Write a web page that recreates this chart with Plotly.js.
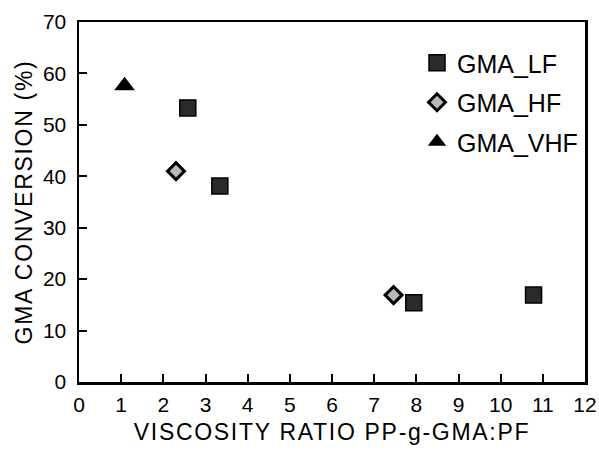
<!DOCTYPE html>
<html>
<head>
<meta charset="utf-8">
<script src="https://cdn.plot.ly/plotly-3.0.1.min.js"></script>
<style>
html,body{margin:0;padding:0;background:#fff;}
#chart{width:599px;height:451px;}
#chart .xtitle, #chart .ytitle{letter-spacing:1.7px;}
</style>
</head>
<body>
<div id="chart"></div>
<script>
const lfX = [2.58, 3.34, 7.94, 10.78];
const lfY = [53.3, 38.1, 15.4, 16.9];
const hfX = [2.30, 7.46];
const hfY = [41.0, 16.9];
const vhfX = [1.08];
const vhfY = [57.6];
const seriesNames = ["GMA_LF", "GMA_HF", "GMA_VHF"];
const xTicks = [0,1,2,3,4,5,6,7,8,9,10,11,12];
const yTicks = [0,10,20,30,40,50,60,70];

const traces = [
  {x: lfX, y: lfY, name: seriesNames[0], legendgroup: 'a', type: 'scatter', mode: 'markers',
   marker: {symbol: 'square', size: 16, color: '#2a2a2a', line: {color: '#000', width: 1.5}}},
  {x: hfX, y: hfY, name: seriesNames[1], legendgroup: 'b', type: 'scatter', mode: 'markers',
   marker: {symbol: 'diamond', size: 13, color: '#b8b8b8', line: {color: '#000', width: 3}}},
  {x: vhfX, y: vhfY, name: seriesNames[2], legendgroup: 'c', type: 'scatter', mode: 'markers',
   marker: {symbol: 'triangle-up', size: 18, color: '#000', line: {color: '#000', width: 0}}}
];

const font = {family: 'Liberation Sans, Arial, sans-serif', color: '#000'};
const layout = {
  width: 599, height: 451,
  margin: {l: 79, r: 14, t: 22, b: 69},
  paper_bgcolor: '#fff', plot_bgcolor: '#fff',
  font: Object.assign({size: 16}, font),
  showlegend: true,
  legend: {x: 0.668, y: 0.95, xanchor: 'left', yanchor: 'top', bgcolor: 'rgba(0,0,0,0)',
           font: Object.assign({}, font, {size: 25}), traceorder: 'grouped', tracegroupgap: 4, itemwidth: 30},
  xaxis: {range: [0, 12], tickvals: xTicks, ticktext: xTicks.map(String),
          ticks: 'inside', ticklen: 8, tickwidth: 2, tickcolor: '#000',
          showline: true, linecolor: '#000', linewidth: 2.5, mirror: true,
          showgrid: false, zeroline: false, ticklabelstandoff: 2,
          tickfont: Object.assign({}, font, {size: 21}),
          title: {text: 'VISCOSITY RATIO PP-g-GMA:PF', font: Object.assign({}, font, {size: 23}), standoff: 9}},
  yaxis: {range: [0, 70], tickvals: yTicks, ticktext: yTicks.map(String),
          ticks: 'inside', ticklen: 8, tickwidth: 2, tickcolor: '#000',
          showline: true, linecolor: '#000', linewidth: 2.5, mirror: true,
          showgrid: false, zeroline: false, ticklabelstandoff: 6,
          tickfont: Object.assign({}, font, {size: 21}),
          title: {text: 'GMA CONVERSION (%)', font: Object.assign({}, font, {size: 23}), standoff: 4}}
};

Plotly.newPlot('chart', traces, layout, {displayModeBar: false, staticPlot: true});
</script>
</body>
</html>
